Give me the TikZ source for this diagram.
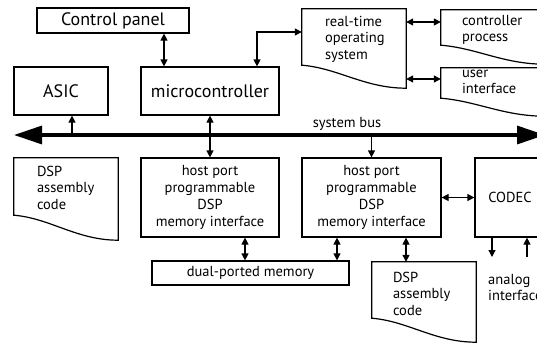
\documentclass[tikz,border=0pt]{standalone}
\usepackage{fontspec}
\setmainfont{PT Sans}
\usetikzlibrary{arrows.meta,calc}
\newcommand\docshape[2][23]{%
  \draw[line width=1.2pt] ([yshift=#1pt]#2.south west) -- (#2.north west) -- (#2.north east) -- (#2.south east)
    .. controls ($(#2.south west)!0.6!(#2.south east)$) and ([yshift=#1pt-3pt]$(#2.south west)!0.35!(#2.south east)$) .. ([yshift=#1pt]#2.south west) -- cycle;}
\begin{document}
\begin{tikzpicture}[x=1pt, y=-1pt,
    >={Triangle[length=7pt,width=7pt]},
    box/.style={draw, line width=1.2pt, inner sep=0pt, align=center, font=\fontsize{14.5}{17}\selectfont},
    bigbox/.style={box, font=\fontsize{18}{21}\selectfont},
    doc/.style={inner sep=0pt},
    doctext/.style={anchor=north west, inner sep=0pt, align=left, font=\fontsize{14.5}{16.5}\selectfont},
    link/.style={<->, line width=1.2pt},
    bus/.style={{Triangle[length=28pt,width=18pt]}-{Triangle[length=28pt,width=18pt]}, line width=3.3pt}]
  \useasboundingbox (0,0) rectangle (537,343);
  \clip (0,0) rectangle (537,343);
  \node[bigbox, minimum width=152pt, minimum height=25pt] (cpanel) at (113,20.5) {Control panel};
  \node[bigbox, minimum width=94pt, minimum height=48pt] (asic) at (61,91) {ASIC};
  \node[bigbox, minimum width=138pt, minimum height=48pt] (micro) at (210,91) {microcontroller};
  \node[doc, minimum width=104pt, minimum height=79pt] (rtos) at (354,48.5) {};
  \node[doc, minimum width=104pt, minimum height=54pt] (cproc) at (493,37) {};
  \node[doc, minimum width=104pt, minimum height=48pt] (uif) at (493,92) {};
  \node[doc, minimum width=104pt, minimum height=82pt] (asmone) at (66,199) {};
  \node[box, minimum width=138pt, minimum height=79pt] (hostone) at (210,197.5) {host port\\programmable\\DSP\\memory interface};
  \node[box, minimum width=139pt, minimum height=79pt] (hosttwo) at (371.5,197.5) {host port\\programmable\\DSP\\memory interface};
  \node[box, minimum width=70pt, minimum height=79pt] (codec) at (510,197.5) {CODEC};
  \node[box, minimum width=197pt, minimum height=24pt] (dual) at (250.5,273) {dual-ported memory};
  \node[doc, minimum width=104pt, minimum height=80pt] (asmtwo) at (424,302) {};
  \docshape{rtos}
  \docshape[19]{cproc}
  \docshape[18]{uif}
  \docshape[25]{asmone}
  \docshape[24]{asmtwo}
  \node[doctext] (rtostext) at ([shift={(23pt,-7pt)}]rtos.north west) {real-time\\operating\\system};
  \node[doctext] (cproctext) at ([shift={(21pt,-5pt)}]cproc.north west) {controller\\process};
  \node[doctext] (uiftext) at ([shift={(21pt,-2pt)}]uif.north west) {user\\interface};
  \node[doctext] (asmonetext) at ([shift={(23pt,-8pt)}]asmone.north west) {DSP\\assembly\\code};
  \node[doctext] (asmtwotext) at ([shift={(21pt,-10pt)}]asmtwo.north west) {DSP\\assembly\\code};
  \node[doctext] (analog) at (488,274) {analog\\interface};
  \coordinate (busl) at (14,135);
  \coordinate (busr) at (545,135);
  \draw[bus] (busl) -- (busr);
  \node[font=\fontsize{14.5}{16.5}\selectfont, inner sep=0pt] (buslabel) at (347,124) {system bus};
  \draw[link] (cpanel.south -| 164,0) -- (micro.north -| 164,0);
  \draw[link] (micro.north -| 257,0) |- (rtos.west |- 0,32);
  \draw[link] (rtos.east |- 0,22) -- (cproc.west |- 0,22);
  \draw[link] (rtos.east |- 0,79) -- (uif.west |- 0,79);
  \draw[->, line width=1.2pt] (busl -| 72,0) -- (asic.south -| 72,0);
  \draw[link] (micro.south) -- (hostone.north);
  \draw[->, line width=1.2pt] (busl -| hosttwo.north) -- (hosttwo.north);
  \draw[link] (hosttwo.east) -- (codec.west);
  \draw[link] (hostone.south -| 245,0) -- (dual.north -| 245,0);
  \draw[link] (hosttwo.south -| 337,0) -- (dual.north -| 337,0);
  \draw[link] (hosttwo.south -| 406,0) -- (asmtwo.north -| 406,0);
  \coordinate (aout) at (492,257);
  \coordinate (ain) at (527,257);
  \draw[->, line width=1.2pt] (codec.south -| aout) -- (aout);
  \draw[->, line width=1.2pt] (ain) -- (codec.south -| ain);
\end{tikzpicture}
\end{document}
